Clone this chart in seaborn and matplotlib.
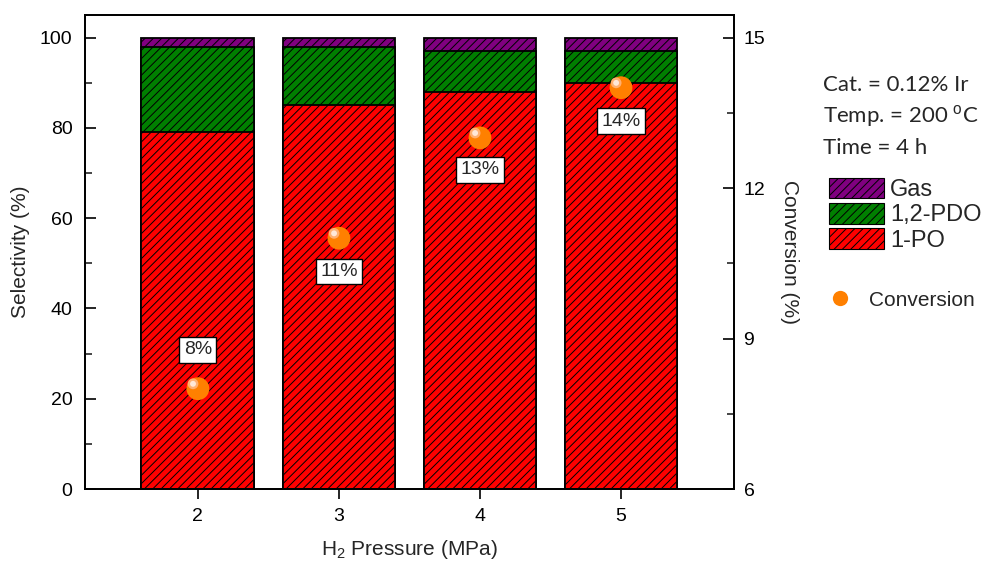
import matplotlib
matplotlib.use("Agg")
import matplotlib.pyplot as plt
from matplotlib.patches import Patch
from matplotlib.lines import Line2D
from matplotlib.ticker import MultipleLocator
import matplotlib.transforms as mtransforms
import seaborn as sns
import pandas as pd

# H2 pressure (MPa) and product selectivity (%)
pressure = [2, 3, 4, 5]
sel_1po = [79, 85, 88, 90]
sel_pdo = [19, 13, 9, 7]
sel_gas = [2, 2, 3, 3]
# glycerol conversion (%)
conversion = [8, 11, 13, 14]
conv_labels = ["8%", "11%", "13%", "14%"]
label_offsets = [28, -24, -23, -24]  # points, label position relative to marker

sns.set_theme(style="white")
plt.rcParams["font.family"] = ["Liberation Sans", "DejaVu Sans"]
plt.rcParams["mathtext.fontset"] = "custom"
plt.rcParams["mathtext.rm"] = "Liberation Sans"
plt.rcParams["hatch.color"] = "black"
plt.rcParams["hatch.linewidth"] = 0.7

HATCH = "////"

df = pd.DataFrame({
    "pressure": pressure,
    "po": sel_1po,
    "pdo": sel_pdo,
    "gas": sel_gas,
    "conv": conversion,
})
df["top_pdo"] = df["po"] + df["pdo"]
df["top_gas"] = df["top_pdo"] + df["gas"]

fig = plt.figure(figsize=(9.89, 5.65), dpi=100)
ax = fig.add_axes([0.086, 0.1345, 0.656, 0.839])

RED, GREEN, PURPLE, ORANGE = "#FF0000", "#007F00", "#800080", "#FF8000"

# stacked bars: draw cumulative totals from the top layer down
for col, color in [("top_gas", PURPLE), ("top_pdo", GREEN), ("po", RED)]:
    n0 = len(ax.patches)
    sns.barplot(data=df, x="pressure", y=col, native_scale=True, width=0.8,
                color=color, saturation=1, edgecolor="black", linewidth=1.3,
                errorbar=None, ax=ax)
    for p in ax.patches[n0:]:
        p.set_hatch(HATCH)

ax.set_xlim(1.2, 5.8)
ax.set_ylim(0, 105)
ax.set_xticks(pressure)
ax.yaxis.set_major_locator(MultipleLocator(20))
ax.yaxis.set_minor_locator(MultipleLocator(10))
ax.tick_params(axis="y", which="major", direction="in", length=8, width=1.2,
               labelsize=14, left=True, colors="black", pad=9)
ax.tick_params(axis="y", which="minor", direction="in", length=5, width=1.2, left=True)
ax.tick_params(axis="x", which="major", direction="out", length=7, width=1.2,
               labelsize=14, bottom=True, pad=7, colors="black")
ax.set_ylabel("Selectivity (%)", fontsize=15, labelpad=7)
ax.set_xlabel("H$_{2}$ Pressure (MPa)", fontsize=15, labelpad=9)
for s in ax.spines.values():
    s.set_color("black")
    s.set_linewidth(1.3)

# conversion on the secondary axis
ax2 = ax.twinx()
ax2.set_ylim(6, 6 + 105 * 0.09)
sns.scatterplot(data=df, x="pressure", y="conv", s=270, color=ORANGE,
                edgecolor="none", ax=ax2, zorder=5, legend=False)
# glossy highlight on each sphere
shift = mtransforms.ScaledTranslation(-3.5 / 72, 3.5 / 72, fig.dpi_scale_trans)
ax2.scatter(df["pressure"], df["conv"], s=60, color="#FFB070", edgecolor="none",
            zorder=6, transform=ax2.transData + shift)
ax2.scatter(df["pressure"], df["conv"], s=18, color="#FFE8D8", edgecolor="none",
            zorder=6, transform=ax2.transData + shift)
for xv, yv, lab, off in zip(pressure, conversion, conv_labels, label_offsets):
    ax2.annotate(lab, (xv, yv), xytext=(0, off), textcoords="offset points",
                 ha="center", va="center", fontsize=14, zorder=7,
                 bbox=dict(boxstyle="square,pad=0.22", fc="white", ec="black", lw=1))
ax2.yaxis.set_major_locator(MultipleLocator(3))
ax2.yaxis.set_minor_locator(MultipleLocator(1.5))
ax2.tick_params(axis="y", which="major", direction="in", length=8, width=1.2,
                labelsize=14, right=True, left=False, colors="black", pad=7)
ax2.tick_params(axis="y", which="minor", direction="in", length=5, width=1.2,
                right=True, left=False)
ax2.set_ylabel("Conversion (%)", fontsize=15, rotation=270, labelpad=24)
ax2.set_xlabel("")
ax2.grid(False)
for s in ax2.spines.values():
    s.set_color("black")
    s.set_linewidth(1.3)

# reaction conditions
cond = ["Cat. = 0.12% Ir", "Temp. = 200 $^{\\mathrm{o}}$C", "Time = 4 h"]
for i, t in enumerate(cond):
    fig.text(0.832, 1 - (85 + 31.5 * i) / 565, t, fontsize=16, va="center",
             ha="left", family=["Lato", "DejaVu Sans"])

handles = [Patch(facecolor=c, edgecolor="black", hatch=HATCH, linewidth=0.8)
           for c in (PURPLE, GREEN, RED)]
leg1 = fig.legend(handles, ["Gas", "1,2-PDO", "1-PO"], loc="upper left",
                  bbox_to_anchor=(0.838, 1 - 178 / 565), frameon=False, fontsize=17,
                  handlelength=2.35, handleheight=0.95, labelspacing=0.08,
                  handletextpad=0.25, borderaxespad=0, borderpad=0)
conv_handle = Line2D([], [], marker="o", linestyle="none", markersize=11,
                     markerfacecolor=ORANGE, markeredgecolor="none")
leg2 = fig.legend([conv_handle], ["Conversion"], loc="center left",
                  bbox_to_anchor=(0.839, 1 - 300 / 565), frameon=False, fontsize=15,
                  handlelength=1.0, handletextpad=0.9, borderaxespad=0, borderpad=0)

fig.savefig("out.png", dpi=100)
